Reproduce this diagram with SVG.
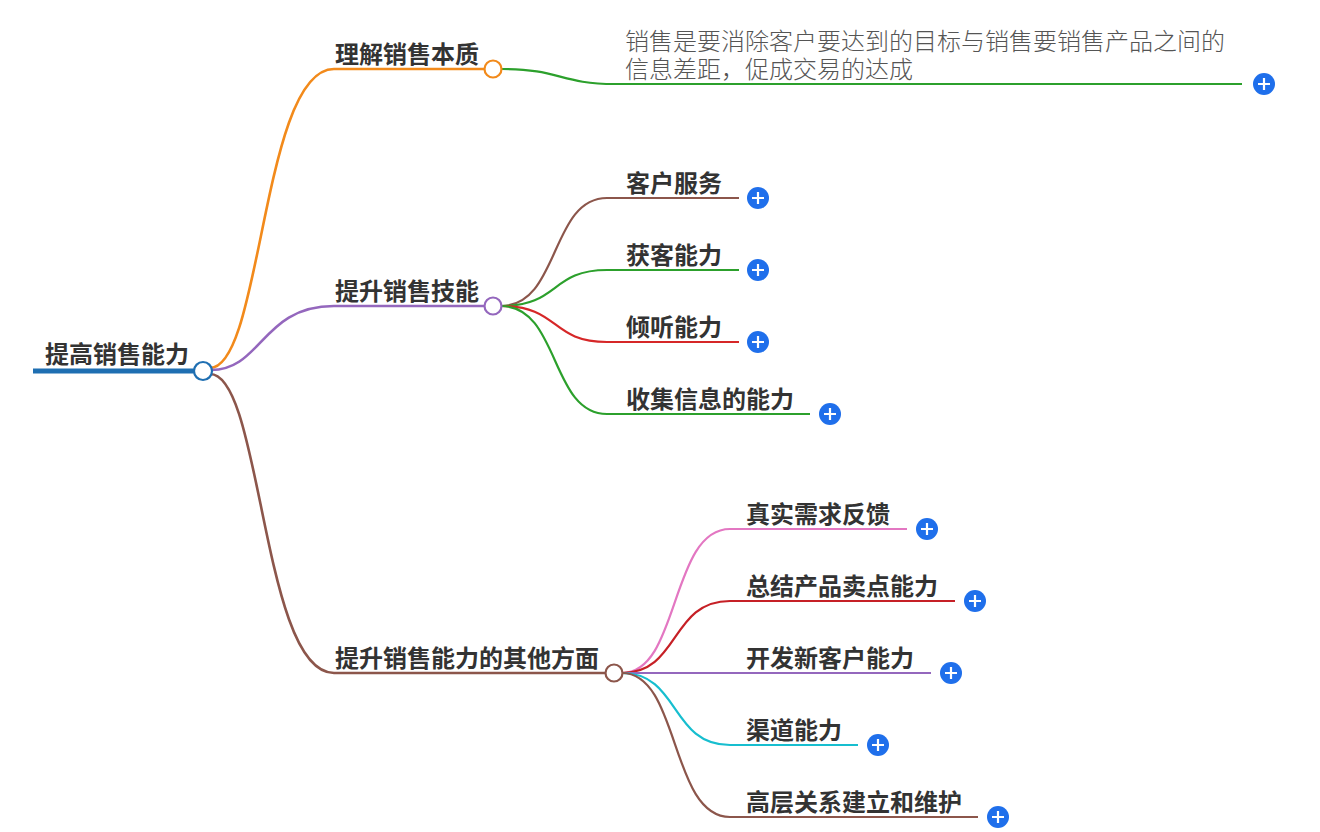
<svg xmlns="http://www.w3.org/2000/svg" width="1320" height="832" viewBox="0 0 1320 832">
<style>
text{font-family:"Noto Sans CJK SC","Noto Sans",sans-serif;}
.t{font-size:24px;font-weight:bold;fill:#333;}
.d{font-size:24px;font-weight:300;fill:#555;}
.e{fill:none;stroke-width:2.2;}
.e1{fill:none;stroke-width:2.6;}
.nc{fill:#fff;stroke-width:2.2;}
.plus circle{fill:#1f6feb;}
.plus path{stroke:#fff;stroke-width:2.2;fill:none;}
</style>
<defs>
<g id="pl" class="plus"><circle r="11"/><path d="M-6,0H6M0,-6V6"/></g>
</defs>
<g id="connectors">
<path class="e1" stroke="#f28a1b" d="M210,368 C262,368 262,69 334,69 H485"/>
<path class="e1" stroke="#9467bd" d="M211,370 C262,370 262,306 334,306 H485"/>
<path class="e1" stroke="#8c564b" d="M210,374 C262,374 262,673 334,673 H605"/>
<path class="e" stroke="#2ca02c" d="M502,69 C560,69 560,84 615,84 H1242"/>
<path class="e" stroke="#8c564b" d="M501,306 C560,306 550,198 607,198 H739"/>
<path class="e" stroke="#2ca02c" d="M501,306 C560,306 550,270 607,270 H739"/>
<path class="e" stroke="#d62728" d="M501,306 C560,306 550,342 607,342 H739"/>
<path class="e" stroke="#2ca02c" d="M501,306 C560,306 550,414 607,414 H810"/>
<path class="e" stroke="#e377c2" d="M622,673 C680,673 670,529 730,529 H907"/>
<path class="e" stroke="#c62026" d="M622,673 C680,673 670,601 730,601 H955"/>
<path class="e" stroke="#9467bd" d="M622,673 H931"/>
<path class="e" stroke="#17becf" d="M622,673 C680,673 670,745 730,745 H858"/>
<path class="e" stroke="#8c564b" d="M622,673 C680,673 670,817 730,817 H978"/>
</g>
<g id="root">
<line x1="33" y1="371" x2="195" y2="371" stroke="#1f6fb2" stroke-width="5"/>
<text class="t" x="45" y="363">提高销售能力</text>
<circle class="nc" cx="203" cy="371" r="9" stroke="#1f6fb2"/>
</g>
<g id="n1">
<text class="t" x="335" y="63">理解销售本质</text>
<circle class="nc" cx="493" cy="69" r="8.5" stroke="#f28a1b"/>
</g>
<g id="n1d">
<text class="d" x="625" y="50">销售是要消除客户要达到的目标与销售要销售产品之间的</text>
<text class="d" x="625" y="78">信息差距，促成交易的达成</text>
<use href="#pl" x="1264" y="84"/>
</g>
<g id="n2">
<text class="t" x="335" y="300">提升销售技能</text>
<circle class="nc" cx="493" cy="306" r="8.5" stroke="#9467bd"/>
</g>
<g id="n2a"><text class="t" x="626" y="192">客户服务</text><use href="#pl" x="758" y="198"/></g>
<g id="n2b"><text class="t" x="626" y="264">获客能力</text><use href="#pl" x="758" y="270"/></g>
<g id="n2c"><text class="t" x="626" y="336">倾听能力</text><use href="#pl" x="758" y="342"/></g>
<g id="n2d"><text class="t" x="626" y="408">收集信息的能力</text><use href="#pl" x="830" y="414"/></g>
<g id="n3">
<text class="t" x="335" y="667">提升销售能力的其他方面</text>
<circle class="nc" cx="614" cy="673" r="8.5" stroke="#8c564b"/>
</g>
<g id="n3a"><text class="t" x="746" y="523">真实需求反馈</text><use href="#pl" x="927" y="529"/></g>
<g id="n3b"><text class="t" x="746" y="595">总结产品卖点能力</text><use href="#pl" x="975" y="601"/></g>
<g id="n3c"><text class="t" x="746" y="667">开发新客户能力</text><use href="#pl" x="951" y="673"/></g>
<g id="n3d"><text class="t" x="746" y="739">渠道能力</text><use href="#pl" x="878" y="745"/></g>
<g id="n3e"><text class="t" x="746" y="811">高层关系建立和维护</text><use href="#pl" x="998" y="817"/></g>
</svg>
